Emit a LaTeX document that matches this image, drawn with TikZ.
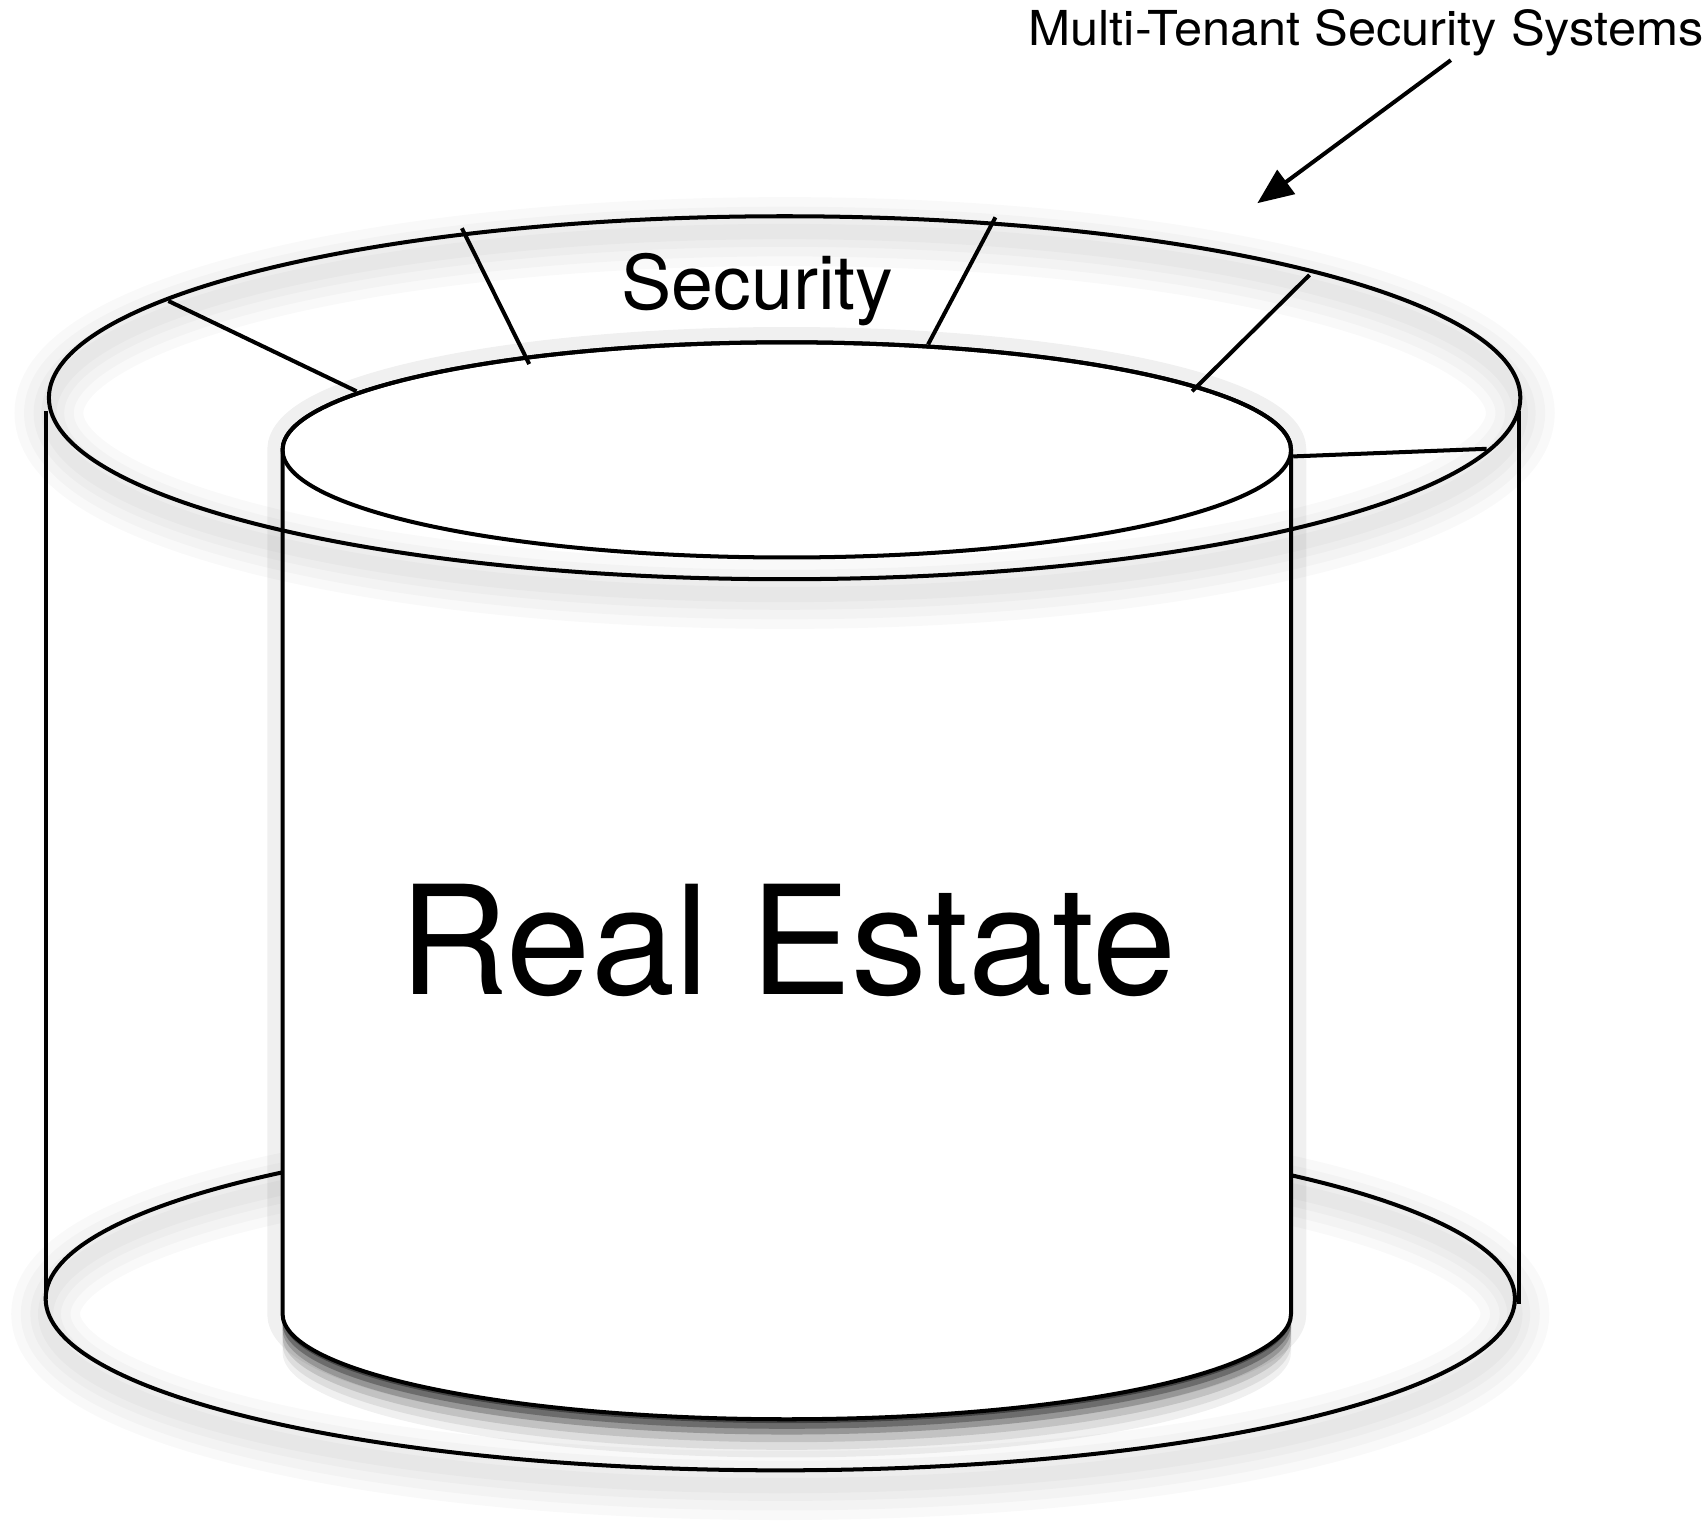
\documentclass[tikz,border=0pt]{standalone}
\usepackage{fontspec}
\setmainfont{TeX Gyre Heros}
\newfontfamily\tagfont[FakeStretch=1.05]{TeX Gyre Heros}
\usetikzlibrary{arrows.meta}

\tikzset{
  rim/.style={line width=1.05pt},
  haze/.style={
    preaction={draw=black, opacity=0.025, line width=18pt, transform canvas={yshift=-4pt}},
    preaction={draw=black, opacity=0.025, line width=13pt, transform canvas={yshift=-4pt}},
    preaction={draw=black, opacity=0.025, line width=8pt, transform canvas={yshift=-4pt}},
    preaction={draw=black, opacity=0.025, line width=4pt, transform canvas={yshift=-4pt}}},
  dropshade/.style={
    preaction={fill=black, opacity=0.06, transform canvas={yshift=-10pt}},
    preaction={fill=black, opacity=0.08, transform canvas={yshift=-8pt}},
    preaction={fill=black, opacity=0.12, transform canvas={yshift=-6pt}},
    preaction={fill=black, opacity=0.18, transform canvas={yshift=-4pt}},
    preaction={fill=black, opacity=0.28, transform canvas={yshift=-2.5pt}},
    preaction={fill=black, opacity=0.38, transform canvas={yshift=-1pt}},
    preaction={draw=black, opacity=0.06, line width=8pt}},
  pointer/.style={rim, -{Triangle[length=9.4pt, width=7.7pt]}},
}

\begin{document}
\begin{tikzpicture}[x=0.01cm, y=-0.01cm]
\useasboundingbox (0,0) rectangle (1568,1407);
% Anneau exterieur, bas
\draw[rim, haze] (718,1195) ellipse [x radius=676, y radius=158];
\draw[rim] (42,378) -- (42,1195);
\draw[rim] (1398,378) -- (1398,1200);
% Cylindre
\draw[rim, fill=white, dropshade] (260,414) -- (260,1209)
  arc [start angle=180, end angle=0, x radius=464, y radius=97] -- (1188,414)
  arc [start angle=0, end angle=-180, x radius=464, y radius=99] -- cycle;
\draw[rim] (724,414) ellipse [x radius=464, y radius=99];
% Anneau exterieur, haut
\draw[rim, haze] (722,366) ellipse [x radius=677, y radius=167];
% Separations
\draw[rim] (155,277) -- (328,360);
\draw[rim] (425,210) -- (487,335);
\draw[rim] (916,200) -- (854,317);
\draw[rim] (1205,253) -- (1097,360);
\draw[rim] (1190,420) -- (1368,413);
% Textes
\node[anchor=base, font=\fontsize{19.7}{23}\selectfont] (security) at (697,285) {Security};
\node[anchor=base, font=\fontsize{39.6}{46}\selectfont] (realestate) at (725,915) {Real Estate};
\node[anchor=base, inner sep=0pt, font=\tagfont\fontsize{12.6}{15}\selectfont] (mtss) at (1257,41.5) {Multi-Tenant Security Systems};
\coordinate (ringmark) at (1157,187);
\draw[pointer] ([xshift=0.78cm, yshift=-1pt]mtss.south) -- (ringmark);
\end{tikzpicture}
\end{document}
